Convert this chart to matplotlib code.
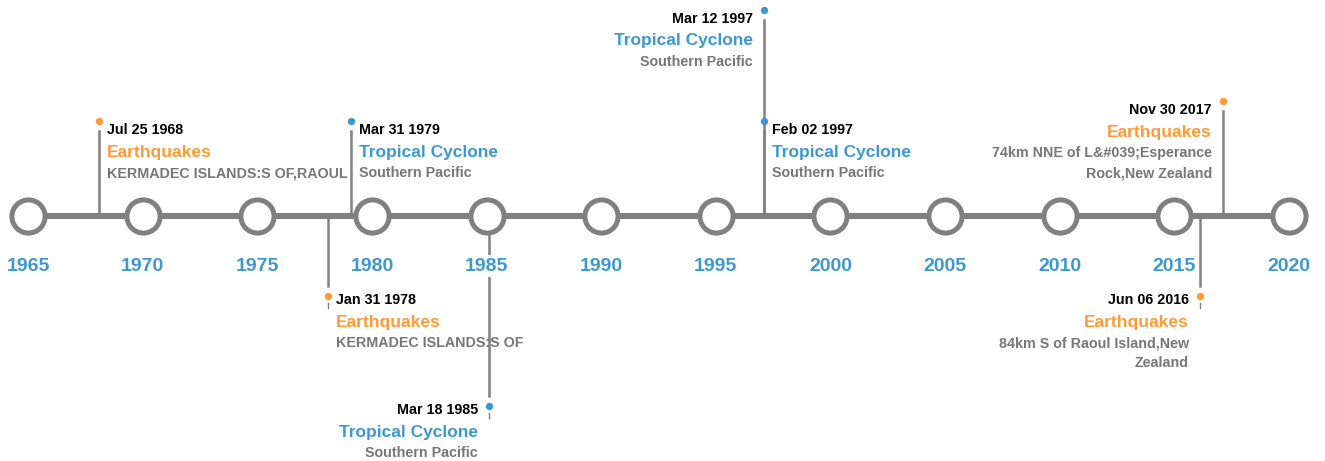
import matplotlib.pyplot as plt

# timeline data
years = [1965, 1970, 1975, 1980, 1985, 1990, 1995, 2000, 2005, 2010, 2015, 2020]

dates = ["Jul 25 1968", "Jan 31 1978", "Mar 31 1979", "Mar 18 1985",
         "Feb 02 1997", "Mar 12 1997", "Jun 06 2016", "Nov 30 2017"]
positions = [1968.1, 1978.08, 1979.08, 1985.1, 1997.1, 1997.1, 2016.12, 2017.12]
categories = ["Earthquakes", "Earthquakes", "Tropical Cyclone", "Tropical Cyclone",
              "Tropical Cyclone", "Tropical Cyclone", "Earthquakes", "Earthquakes"]
descriptions = ["KERMADEC ISLANDS:S OF,RAOUL",
                "KERMADEC ISLANDS:S OF",
                "Southern Pacific",
                "Southern Pacific",
                "Southern Pacific",
                "Southern Pacific",
                "84km S of Raoul Island,New\nZealand",
                "74km NNE of L&#039;Esperance\nRock,New Zealand"]
levels = [1, -1, 1, -2, 1, 2, -1, 1]
text_side = ["right", "right", "right", "left", "right", "left", "left", "left"]

colors = {"Earthquakes": "#ff9a35", "Tropical Cyclone": "#3d98d0"}
GRAY = "#808080"
DESC_GRAY = "#777777"
YEAR_BLUE = "#3d98d0"
FONT = "Liberation Sans"

W, H = 1325, 461
AXIS_Y = 216
PX_PER_YEAR = (1289 - 28) / 55.0

fig = plt.figure(figsize=(W / 100, H / 100), dpi=100)
ax = fig.add_axes([0, 0, 1, 1])
ax.set_xlim(1965 - 28 / PX_PER_YEAR, 2020 + (W - 1289) / PX_PER_YEAR)
ax.set_ylim(H, 0)
ax.axis("off")

# main line with year circles
ax.plot([years[0], years[-1]], [AXIS_Y, AXIS_Y], color=GRAY, lw=4.4,
        solid_capstyle="butt", zorder=1)
ax.scatter(years, [AXIS_Y] * len(years), s=570, facecolor="white",
           edgecolor=GRAY, linewidth=3.6, zorder=3)
for yr in years:
    ax.text(yr, 266, str(yr), ha="center", va="center", color=YEAR_BLUE,
            fontsize=14, fontweight="bold", family=FONT, zorder=5,
            bbox=dict(boxstyle="square,pad=0.15", fc="white", ec="none"))

LINE_DATE_CAT = 22
LINE_CAT_DESC = 21
LINE_DESC = 20

for x, d, cat, desc, lvl, side in zip(positions, dates, categories,
                                      descriptions, levels, text_side):
    col = colors[cat]
    desc_lines = desc.split("\n")
    n = len(desc_lines)
    if lvl > 0:
        bottom = 173 - 111 * (lvl - 1)
        desc_y = [bottom - LINE_DESC * (n - 1 - i) for i in range(n)]
        cat_y = desc_y[0] - LINE_CAT_DESC
        date_y = cat_y - LINE_DATE_CAT
        dot_y = date_y - 9
        ax.plot([x, x], [AXIS_Y, dot_y + 10], color=GRAY, lw=1.8, zorder=2)
    else:
        dot_y = 296 + 110 * (-lvl - 1)
        date_y = dot_y + 4
        cat_y = date_y + LINE_DATE_CAT
        desc_y = [cat_y + LINE_CAT_DESC + LINE_DESC * i for i in range(n)]
        ax.plot([x, x], [AXIS_Y, dot_y - 10], color=GRAY, lw=1.8, zorder=2)
        ax.plot([x, x], [dot_y + 7, dot_y + 12], color=GRAY, lw=1.0, zorder=2)
    ax.scatter([x], [dot_y], s=28, color=col, zorder=4, linewidth=0)

    if side == "right":
        dx, ha = 8, "left"
    else:
        dx, ha = -11, "right"
    ax.annotate(d, (x, date_y), xytext=(dx, 0), textcoords="offset pixels",
                ha=ha, va="center", color="black", fontsize=10.3,
                fontweight="bold", family=FONT)
    ax.annotate(cat, (x, cat_y), xytext=(dx, 0), textcoords="offset pixels",
                ha=ha, va="center", color=col, fontsize=12.5,
                fontweight="bold", family=FONT)
    for line, ly in zip(desc_lines, desc_y):
        ax.annotate(line, (x, ly), xytext=(dx, 0), textcoords="offset pixels",
                    ha=ha, va="center", color=DESC_GRAY, fontsize=10.3,
                    fontweight="bold", family=FONT)

fig.savefig("out.png", dpi=100)
